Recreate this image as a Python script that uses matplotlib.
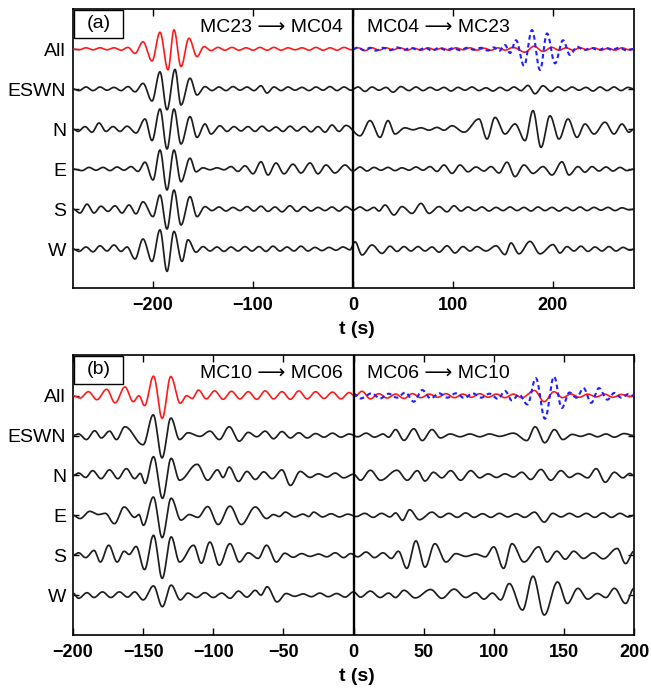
import numpy as np
import matplotlib
matplotlib.use('Agg')
import matplotlib.pyplot as plt
from matplotlib.patches import Rectangle

plt.rcParams['font.family'] = ['Liberation Sans', 'DejaVu Sans']

# ---------------- data: extrema (time s, amplitude in trace spacings) ----------------
row_labels = ['All', 'ESWN', 'N', 'E', 'S', 'W']

A_ALL = [(-280,0),(-274,-.02),(-267,.03),(-260,-.02),(-253,.03),(-246,-.02),(-239,.03),(-232,-.03),(-225,.04),(-218,-.11),(-210,.18),(-201,-.30),(-193,.42),(-185,-.52),(-179,.48),(-172,-.44),(-164,.27),(-156,-.19),(-149,.06),(-142,-.04),(-135,.04),(-128,-.03),(-121,.04),(-114,-.03),(-107,.03),(-100,-.03),(-93,.04),(-86,-.03),(-79,.04),(-72,-.03),(-65,.03),(-58,-.02),(-51,.03),(-44,-.03),(-37,.04),(-30,-.03),(-23,.03),(-16,-.03),(-9,.04),(-2,-.02),(5,.03),(12,-.04),(19,.03),(26,-.03),(33,.03),(40,-.02),(47,.03),(54,-.03),(61,.02),(68,-.03),(75,.03),(82,-.02),(89,.02),(96,-.03),(103,.03),(110,-.02),(117,.03),(124,-.03),(131,.02),(138,-.03),(145,.03),(152,-.03),(160,.04),(172,-.08),(181,.07),(190,-.06),(199,.04),(206,-.03),(213,.03),(220,-.03),(227,.03),(234,-.02),(241,.03),(248,-.03),(255,.02),(262,-.03),(269,.03),(276,-.02),(281,0)]
A_BLUE = [(0,0),(5,.04),(11,-.03),(17,.03),(23,-.04),(30,.03),(37,-.03),(44,.04),(51,-.02),(58,.03),(65,-.03),(72,.03),(79,-.04),(86,.03),(93,-.03),(100,.02),(107,-.03),(114,.03),(121,-.02),(128,.03),(135,-.04),(141,.04),(146,-.05),(152,.10),(157,-.10),(163,.22),(171,-.42),(179,.475),(187,-.525),(194,.39),(202,-.36),(210,.22),(217,-.15),(224,.06),(231,-.03),(238,.03),(245,-.03),(252,.03),(259,-.02),(266,.03),(273,-.03),(281,0)]
A_ESWN = [(-280,0),(-274,-.04),(-267,.05),(-260,-.04),(-253,.05),(-246,-.03),(-239,.04),(-232,-.04),(-225,.06),(-218,-.07),(-210,.14),(-201,-.30),(-193,.43),(-186,-.52),(-178,.49),(-172,-.40),(-163,.27),(-156,-.15),(-148,.06),(-141,-.04),(-134,.05),(-127,-.04),(-120,.06),(-113,-.03),(-106,.05),(-99,-.04),(-92,.08),(-86,-.10),(-79,.05),(-72,-.04),(-65,.05),(-58,-.03),(-51,.04),(-44,-.04),(-37,.05),(-30,-.03),(-23,.06),(-16,-.04),(-9,.05),(-2,-.03),(5,.05),(12,-.06),(19,.05),(26,-.03),(33,.04),(40,-.08),(48,.06),(56,-.04),(63,.05),(70,-.04),(77,.04),(84,-.03),(91,.04),(98,-.05),(105,.04),(112,-.03),(119,.05),(126,-.04),(133,.03),(140,-.05),(147,.04),(154,-.04),(161,.05),(168,-.04),(175,.09),(182,-.12),(190,.08),(198,-.06),(205,.05),(212,-.04),(219,.05),(226,-.03),(233,.04),(240,-.05),(247,.05),(254,-.04),(261,.05),(268,-.04),(275,.04),(281,0)]
A_N = [(-280,0),(-275,-.06),(-268,.06),(-261,-.08),(-254,.15),(-247,-.06),(-240,.06),(-233,-.06),(-226,.07),(-217,-.10),(-208,.25),(-201,-.29),(-193,.50),(-186,-.50),(-179,.50),(-172,-.375),(-163,.31),(-156,-.21),(-148,.125),(-142,-.125),(-133,.08),(-126,-.06),(-119,.06),(-112,-.05),(-105,.06),(-98,-.06),(-91,.07),(-84,-.05),(-77,.05),(-70,-.06),(-63,.07),(-56,-.05),(-49,.06),(-42,-.07),(-35,.06),(-28,-.08),(-21,.10),(-14,-.06),(-7,.09),(7,-.17),(17,.21),(27,-.21),(35,.21),(42,-.125),(52,.03),(60,-.02),(68,.03),(76,-.03),(84,.04),(91,-.03),(99,.08),(111,-.08),(126,.25),(134,-.25),(142,.29),(152,-.125),(162,.125),(172,-.29),(180,.46),(188,-.46),(197,.33),(206,-.25),(215,.25),(224,-.21),(232,.125),(241,-.125),(252,.17),(261,-.125),(269,.125),(276,-.08),(281,0)]
A_E = [(-280,0),(-271,-.04),(-264,.04),(-257,-.03),(-250,.04),(-243,-.04),(-236,.05),(-229,-.03),(-222,.06),(-215,-.06),(-208,.17),(-200,-.275),(-193,.475),(-186,-.525),(-179,.475),(-172,-.32),(-163,.27),(-157,-.07),(-150,.03),(-143,-.02),(-136,.03),(-129,-.02),(-122,.06),(-115,-.06),(-108,.08),(-100,-.12),(-92,.18),(-85,-.15),(-77,.15),(-69,-.12),(-60,.12),(-52,-.10),(-43,.15),(-35,-.12),(-27,.10),(-18,-.10),(-8,.10),(0,-.05),(7,.05),(14,-.05),(21,.04),(28,-.03),(35,.04),(42,-.04),(49,.03),(56,-.03),(63,.05),(70,-.03),(77,.06),(84,-.06),(91,.10),(99,-.11),(107,.10),(115,-.07),(123,.05),(131,-.05),(138,.06),(146,-.10),(154,.17),(162,-.19),(171,.10),(180,-.11),(190,.06),(199,-.15),(209,.18),(216,-.15),(225,.06),(232,-.08),(239,.06),(246,-.05),(253,.05),(260,-.05),(267,.04),(274,-.04),(281,0)]
A_S = [(-280,0),(-273,-.10),(-266,.12),(-259,-.10),(-252,.07),(-245,-.06),(-238,.08),(-231,-.10),(-224,.10),(-217,-.12),(-210,.18),(-200,-.19),(-193,.35),(-186,-.50),(-179,.475),(-172,-.40),(-163,.31),(-156,-.19),(-148,.06),(-141,-.04),(-134,.05),(-127,-.05),(-120,.04),(-113,-.04),(-106,.06),(-99,-.05),(-92,.07),(-85,-.06),(-78,.05),(-71,-.07),(-63,.08),(-56,-.06),(-49,.06),(-42,-.05),(-35,.04),(-28,-.04),(-21,.05),(-14,-.05),(-7,.06),(0,-.03),(7,.05),(14,-.04),(21,.04),(26,-.05),(32,.10),(41,-.15),(49,.06),(59,-.11),(68,.14),(76,-.11),(86,.06),(94,-.07),(101,.08),(108,-.05),(115,.05),(122,-.04),(129,.05),(136,-.05),(143,.04),(150,-.04),(157,.05),(164,-.04),(171,.04),(178,-.05),(185,.05),(192,-.04),(199,.04),(206,-.05),(213,.04),(220,-.04),(227,.05),(234,-.04),(241,.04),(248,-.03),(255,.04),(262,-.04),(269,.03),(276,-.02),(281,0)]
A_W = [(-280,0),(-274,-.06),(-267,.05),(-260,-.07),(-253,.08),(-246,-.05),(-239,.10),(-232,-.06),(-226,.05),(-218,-.25),(-210,.25),(-201,-.31),(-193,.48),(-186,-.56),(-179,.44),(-171,-.31),(-165,.23),(-157,-.08),(-150,.06),(-143,-.05),(-136,.05),(-129,-.06),(-122,.05),(-115,-.05),(-108,.06),(-101,-.05),(-94,.06),(-87,-.06),(-80,.07),(-73,-.05),(-66,.05),(-59,-.05),(-52,.07),(-45,-.05),(-38,.04),(-31,-.04),(-24,.04),(-17,-.03),(-10,.05),(-3,-.02),(2,.18),(9,-.15),(19,.10),(29,-.11),(37,.07),(44,-.06),(51,.06),(58,-.05),(65,.06),(72,-.05),(79,.05),(86,-.08),(94,.08),(102,-.10),(110,.06),(117,-.05),(124,.06),(133,-.05),(143,.08),(152,-.14),(158,.15),(166,-.12),(177,.19),(187,-.12),(200,.11),(207,-.10),(214,.06),(221,-.05),(228,.07),(235,-.06),(242,.05),(249,-.05),(256,.06),(263,-.05),(270,.04),(277,-.03),(281,0)]

B_ALL = [(-200,0),(-195,-.06),(-189,.10),(-183,-.10),(-176,.16),(-170,-.18),(-163,.22),(-157,-.15),(-153,0.0),(-149,-.25),(-142.6,.49),(-136.4,-.57),(-130.3,.48),(-123.5,-.19),(-119,0.0),(-115,-.07),(-110.5,.14),(-105,-.08),(-99,.12),(-93,-.09),(-87,.11),(-81,-.08),(-75,.10),(-69,-.09),(-63,.12),(-57,-.08),(-51,.10),(-45,-.09),(-39,.12),(-33,-.08),(-27,.10),(-21,-.07),(-15,.09),(-9,-.08),(-3,.08),(1,-.02),(6,.11),(12,-.08),(18,.05),(24,-.06),(30,.04),(36,-.07),(42,.05),(48,-.05),(54,.04),(60,-.04),(66,.05),(72,-.05),(78,.04),(84,-.04),(90,.05),(96,-.04),(102,.04),(108,-.05),(114,.04),(120,-.05),(129,.13),(136,-.15),(143,.10),(149,-.05),(155,.04),(161,-.04),(167,.04),(173,-.03),(179,.04),(185,-.04),(191,.03),(197,-.02),(200,0)]
B_BLUE = [(0,.05),(5,-.07),(13,.06),(19,-.07),(25,.05),(31,-.05),(37,.08),(43,-.15),(49,.14),(55,-.07),(61,.06),(67,-.05),(73,.06),(79,-.06),(85,.06),(91,-.05),(97,.05),(103,-.08),(108,.12),(113,-.12),(118,.03),(124,-.22),(130,.44),(136.5,-.58),(143,.48),(148.5,-.31),(154,.08),(159,-.05),(164,.19),(169.5,-.18),(175,.19),(181,-.10),(186,.07),(191,-.05),(196,.04),(200,0)]
B_ESWN = [(-200,0),(-196,.04),(-190.5,-.10),(-184.5,.12),(-179.8,-.06),(-174,.11),(-169,-.10),(-163,.22),(-150,-.23),(-142.8,.52),(-136.5,-.56),(-130.2,.44),(-124,-.10),(-118,.07),(-109.5,-.02),(-102.4,.11),(-95.7,-.10),(-88.6,.22),(-81.5,-.14),(-75,.08),(-69,-.03),(-63,.11),(-57,-.08),(-51,.10),(-45,-.06),(-39,.07),(-33,-.06),(-27,.05),(-21,-.04),(-15,.06),(-9,-.04),(-3,.04),(3,-.03),(9,.06),(15,-.04),(21,.04),(25,-.04),(30,.15),(36,-.12),(43,.17),(49,-.125),(56,.15),(62,-.06),(69,.04),(76,-.03),(83,.04),(90,-.03),(97,.04),(104,-.02),(114,.06),(123.6,-.125),(129.5,.22),(136.4,-.18),(143.3,.15),(149.3,-.10),(156,.03),(162,-.02),(168,.04),(174,-.03),(180,.04),(186,-.04),(193,.05),(200,0)]
B_N = [(-200,0),(-196,.06),(-191,-.05),(-186,.12),(-180,-.08),(-174,.14),(-168,-.08),(-162,.17),(-156,-.08),(-152,.05),(-148.6,-.20),(-142.6,.47),(-136.2,-.575),(-130,.43),(-124,-.12),(-111.5,.28),(-104,-.12),(-97,.14),(-93,-.05),(-88.6,.21),(-82,-.15),(-76,.10),(-70,-.10),(-64,.09),(-58,-.08),(-51,.14),(-45,-.25),(-38,.10),(-31,-.05),(-25,.04),(-19,-.04),(-13,.06),(-7,-.06),(0,.03),(5,-.12),(12,.13),(19.3,-.12),(31,.13),(38.3,-.12),(45.5,.12),(51,-.14),(57,.08),(63,-.06),(69.3,.12),(76.4,-.12),(83.6,.12),(90,-.06),(96,.04),(102,-.05),(108,.04),(114,-.04),(120,.08),(126.4,-.10),(133.6,.15),(140.7,-.12),(147.9,.12),(154,-.05),(160,.05),(167,-.06),(173,.17),(179.5,-.17),(186,.08),(192,-.06),(197,.05),(200,0)]
B_E = [(-200,0),(-195,-.08),(-188,.10),(-182,.02),(-177,.05),(-170.5,-.21),(-163.5,.21),(-156,-.05),(-153,.02),(-149.8,-.25),(-142.7,.46),(-136.4,-.56),(-130,.43),(-123,-.12),(-117,.02),(-111,-.05),(-104,.22),(-96.5,-.23),(-88.1,.23),(-80,-.23),(-70,.21),(-62,-.08),(-57,.02),(-53,-.03),(-48.6,.08),(-42,-.04),(-36,.03),(-32,-.03),(-28.4,.08),(-22,-.04),(-16,.04),(-10,-.04),(-4,.03),(2,-.03),(8,.05),(14,-.05),(20,.05),(26,-.04),(30,.06),(35,-.125),(40,.14),(47,-.11),(56,.08),(62,-.05),(68,.05),(74,-.05),(80,.06),(86,-.05),(92,.04),(98,-.05),(104,.05),(110,-.04),(116,.04),(122,-.05),(129,.08),(136,-.17),(142,.05),(148,-.04),(154,.05),(160,-.04),(166,.05),(172,-.05),(178,.06),(184,-.05),(190,.05),(196,-.04),(200,0)]
B_S = [(-200,0),(-196,.06),(-191,-.06),(-185,.12),(-180.5,-.17),(-174.5,.25),(-168.5,-.17),(-163.5,.10),(-160,.02),(-155,.22),(-149,-.36),(-142.6,.50),(-136.4,-.58),(-130,.46),(-124,-.17),(-114,.25),(-108.5,-.20),(-102.4,.33),(-95.7,-.25),(-88.1,.29),(-81.4,-.17),(-75,.06),(-68,-.08),(-62,.25),(-55,-.17),(-49,.05),(-43,-.05),(-37,.04),(-31,-.03),(-25,.03),(-19,-.04),(-13,.06),(-7,-.06),(-2,.04),(3,-.04),(9,.08),(15,-.06),(21,.06),(27,-.08),(32,.10),(38,-.33),(44.5,.36),(51,-.30),(58,.29),(66,-.17),(73,.04),(80,-.03),(87,.03),(94,-.04),(100,.21),(107,-.33),(113,.29),(121.5,-.17),(132,.21),(138,-.17),(145,.10),(151,-.10),(157,.10),(164,-.08),(171,.06),(178,-.09),(188,.17),(194,-.21),(200,.10)]
B_W = [(-200,.05),(-196,-.08),(-190,.06),(-185,-.06),(-179,.08),(-173,-.06),(-167,.08),(-161,-.05),(-156,.08),(-150,-.12),(-142.6,.23),(-136.3,-.29),(-130,.25),(-123.5,-.12),(-118,.05),(-112,-.06),(-106,.06),(-100,-.06),(-94,.05),(-88,-.08),(-82,.10),(-76,-.05),(-70,.12),(-66,.0),(-61.6,.21),(-54.5,-.17),(-48,.04),(-42,-.03),(-36,.03),(-30,-.04),(-24,.05),(-18,-.04),(-12,.04),(-6,-.05),(0,.08),(5,-.05),(12,.10),(19,-.06),(25,.05),(30,-.06),(36,.12),(44,-.07),(55,.14),(63,-.08),(71.7,.15),(80,-.06),(87,.06),(93,-.10),(99,.05),(105,-.12),(111,.29),(120.5,-.375),(128,.475),(136,-.50),(145.5,.33),(152.5,-.21),(160,.17),(167,-.10),(174,.04),(180,-.06),(186,.17),(194,-.21),(200,.17)]

panel_a_xticks = [-200, -100, 0, 100, 200]
panel_b_xticks = [-200, -150, -100, -50, 0, 50, 100, 150, 200]
ARROW = '\u27f6'
titles_a = ('MC23 ' + ARROW + ' MC04', 'MC04 ' + ARROW + ' MC23')
titles_b = ('MC10 ' + ARROW + ' MC06', 'MC06 ' + ARROW + ' MC10')


def smooth(pairs, k=16):
    t = np.array([p[0] for p in pairs], float)
    v = np.array([p[1] for p in pairs], float)
    s = np.linspace(0, 1, k, endpoint=False)
    w = (1 - np.cos(np.pi * s)) / 2
    tt = (t[:-1, None] + np.diff(t)[:, None] * s).ravel()
    vv = (v[:-1, None] + np.diff(v)[:, None] * w).ravel()
    return np.append(tt, t[-1]), np.append(vv, v[-1])


W, H = 651, 691
fig = plt.figure(figsize=(W / 100, H / 100), dpi=100)
axA = fig.add_axes([73 / W, 1 - 288 / H, 561 / W, 279 / H])
axB = fig.add_axes([73 / W, 1 - 635 / H, 561 / W, 280 / H])

BLACK = '#1e1e1e'


def draw(ax, red, blue, blacks, xlim, ylim, xticks, titles, tag, ax_h):
    offsets = [5, 4, 3, 2, 1, 0]
    t, v = smooth(red)
    ax.plot(t, v + offsets[0], color='#ff1a1a', lw=1.2, zorder=3)
    t, v = smooth(blue)
    ax.plot(t, v + offsets[0], color='#1f1fff', lw=1.5, ls=(0, (2.2, 1.6)), zorder=4)
    for tr, off in zip(blacks, offsets[1:]):
        t, v = smooth(tr)
        ax.plot(t, v + off, color=BLACK, lw=1.25, zorder=3)
    ax.axvline(0, color='black', lw=1.7, zorder=5)
    ax.set_xlim(*xlim)
    ax.set_ylim(*ylim)
    ax.set_xticks(xticks)
    ax.set_xticklabels([str(x) if x >= 0 else '\u2212' + str(-x) for x in xticks],
                       fontsize=13, fontweight='bold')
    ax.set_yticks(offsets)
    ax.set_yticklabels(row_labels, fontsize=14)
    ax.tick_params(axis='x', direction='in', length=5, width=1.0, top=True, pad=6.5)
    ax.tick_params(axis='y', direction='in', length=4, width=1.0, right=True, pad=5)
    for sp in ax.spines.values():
        sp.set_linewidth(1.2)
    ax.text(0.481, 1 - 18 / ax_h, titles[0], transform=ax.transAxes,
            ha='right', va='center', fontsize=14)
    ax.text(0.524, 1 - 18 / ax_h, titles[1], transform=ax.transAxes,
            ha='left', va='center', fontsize=14)
    ax.add_patch(Rectangle((1 / 561, 1 - 29 / ax_h), 49 / 561, 28 / ax_h,
                           transform=ax.transAxes, fill=False, lw=1.0,
                           edgecolor='black', zorder=6))
    ax.text(25.5 / 561, 1 - 15 / ax_h, tag, transform=ax.transAxes,
            ha='center', va='center', fontsize=14, zorder=7)
    ax.text(0.506, -41.5 / ax_h, 't (s)', transform=ax.transAxes,
            ha='center', va='center', fontsize=14, fontweight='bold')


draw(axA, A_ALL, A_BLUE, [A_ESWN, A_N, A_E, A_S, A_W], (-280, 281), (-0.975, 6.0),
     panel_a_xticks, titles_a, '(a)', 279)
draw(axB, B_ALL, B_BLUE, [B_ESWN, B_N, B_E, B_S, B_W], (-200, 200), (-1.0, 6.02),
     panel_b_xticks, titles_b, '(b)', 280)

fig.savefig('out.png', dpi=100)
